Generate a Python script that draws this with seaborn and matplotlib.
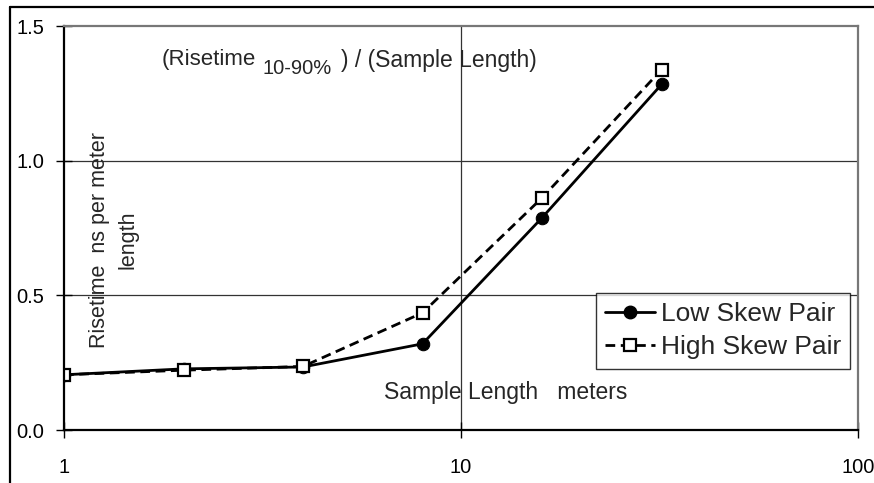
import numpy as np
import pandas as pd
import seaborn as sns
import matplotlib
matplotlib.use("Agg")
from matplotlib import pyplot as plt
from matplotlib.lines import Line2D
from matplotlib.ticker import FixedLocator, FixedFormatter, NullLocator

lengths = [1, 2, 4, 8, 16, 32]
low_skew = [0.205, 0.227, 0.234, 0.32, 0.788, 1.283]
high_skew = [0.205, 0.222, 0.236, 0.435, 0.862, 1.338]
series_names = ["Low Skew Pair", "High Skew Pair"]

df = pd.DataFrame({
    "length": lengths * 2,
    "risetime": low_skew + high_skew,
    "pair": [series_names[0]] * len(lengths) + [series_names[1]] * len(lengths),
})

sns.set_style("white")
plt.rcParams['font.family'] = ['Liberation Sans', 'DejaVu Sans']

fig = plt.figure(figsize=(8.74, 4.83), dpi=100)
ax = fig.add_axes([64 / 874, 53 / 483, 794 / 874, 404 / 483])

sns.lineplot(data=df, x="length", y="risetime", hue="pair", style="pair",
             palette=["black", "black"], dashes={series_names[0]: "", series_names[1]: (3.5, 2)},
             markers={series_names[0]: "o", series_names[1]: "s"},
             linewidth=2, ax=ax, legend=False)

# marker look: filled circles, hollow squares
for line in ax.lines:
    if line.get_marker() == "s":
        line.set_markerfacecolor("white")
        line.set_markeredgecolor("black")
        line.set_markeredgewidth(1.6)
        line.set_markersize(8)
    elif line.get_marker() == "o":
        line.set_markerfacecolor("black")
        line.set_markeredgecolor("black")
        line.set_markersize(9)

ax.set_xscale("log")
ax.set_xlim(1, 100)
ax.set_ylim(0, 1.5)
ax.xaxis.set_major_locator(FixedLocator([1, 10, 100]))
ax.xaxis.set_major_formatter(FixedFormatter(["1", "10", "100"]))
ax.xaxis.set_minor_locator(NullLocator())
ax.set_yticks([0.0, 0.5, 1.0, 1.5])
ax.set_yticklabels(["0.0", "0.5", "1.0", "1.5"])
ax.tick_params(axis="both", which="major", bottom=True, left=True, direction="inout",
               length=12, width=1, colors="black", labelsize=14.5)
ax.tick_params(axis="y", pad=8)
ax.tick_params(axis="x", pad=14)
ax.set_xlabel("")
ax.set_ylabel("")

for y in [0.5, 1.0]:
    ax.axhline(y, color="#333333", linewidth=0.9, zorder=0)
ax.axvline(10, color="#333333", linewidth=0.9, zorder=0)

ax.spines["left"].set_color("black")
ax.spines["left"].set_linewidth(1.6)
ax.spines["bottom"].set_color("black")
ax.spines["bottom"].set_linewidth(1.6)
ax.spines["top"].set_color("#777777")
ax.spines["top"].set_linewidth(1.6)
ax.spines["right"].set_color("#777777")
ax.spines["right"].set_linewidth(1.6)

# titles inside the plot area
fig.text(162 / 874, 1 - 60 / 483, "(Risetime", fontsize=16, va="center", ha="left")
fig.text(263 / 874, 1 - 69 / 483, "10-90%", fontsize=14.5, va="center", ha="left")
fig.text(341 / 874, 1 - 60 / 483, ") / (Sample Length)", fontsize=16.5, va="center", ha="left")
fig.text(114 / 874, 1 - 240 / 483, "Risetime  ns per meter\nlength", fontsize=15.5,
         rotation=90, va="center", ha="center", multialignment="center", linespacing=1.45)
fig.text(506 / 874, 1 - 393 / 483, "Sample Length   meters", fontsize=16.5,
         va="center", ha="center")

handles = [
    Line2D([], [], color="black", linewidth=2, marker="o", markersize=9),
    Line2D([], [], color="black", linewidth=2, linestyle=(0, (3.5, 2)), marker="s",
           markersize=8, markerfacecolor="white", markeredgewidth=1.6),
]
leg = ax.legend(handles, series_names, loc="upper left",
                bbox_to_anchor=((596 - 64) / 794, (430 - 293) / 404),
                fontsize=19, frameon=True, fancybox=False, handlelength=1.9,
                handletextpad=0.2, borderpad=0.35, labelspacing=0.35, borderaxespad=0)
leg.get_frame().set_edgecolor("black")
leg.get_frame().set_linewidth(1)

# outer frame of the picture
fig.add_artist(Line2D([10 / 874, 10 / 874], [0, 1 - 7 / 483], color="black", linewidth=1.6,
                      transform=fig.transFigure))
fig.add_artist(Line2D([10 / 874, 1], [1 - 7 / 483, 1 - 7 / 483], color="black", linewidth=1.6,
                      transform=fig.transFigure))

fig.savefig("out.png", dpi=100)
